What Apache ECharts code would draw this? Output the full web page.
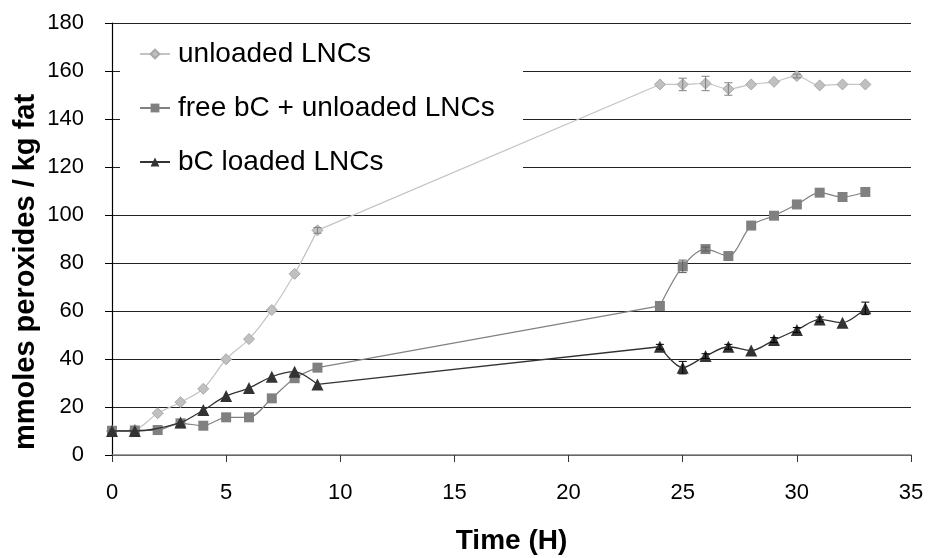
<!DOCTYPE html>
<html>
<head>
<meta charset="utf-8">
<script src="https://cdn.jsdelivr.net/npm/echarts@6/dist/echarts.min.js"></script>
<style>
  html, body { margin: 0; padding: 0; background: #fff; }
  #chart { width: 930px; height: 558px; }
</style>
</head>
<body>
<div id="chart"></div>
<script>
// hours
const timeUnloaded = [0, 1, 2, 3, 4, 5, 6, 7, 8, 9, 24, 25, 26, 27, 28, 29, 30, 31, 32, 33];
const unloaded = [10, 10.5, 17.4, 22, 27.6, 39.9, 48.3, 60.4, 75.5, 93.6, 154.4, 154.4, 154.8, 152.5, 154.4, 155.5, 157.9, 154, 154.4, 154.4];

const timeFree = [0, 1, 2, 3, 4, 5, 6, 7, 8, 9, 24, 25, 26, 27, 28, 29, 30, 31, 32, 33];
const freeBC = [10.1, 10.2, 10.4, 13.2, 12.2, 15.7, 15.7, 23.6, 32, 36.4, 62.1, 78.6, 85.8, 82.9, 95.6, 99.7, 104.4, 109.3, 107.5, 109.6];

// no point at t=2 for this series
const timeLoaded = [0, 1, 3, 4, 5, 6, 7, 8, 9, 24, 25, 26, 27, 28, 29, 30, 31, 32, 33];
const loadedBC = [10, 10, 13.5, 18.7, 24.6, 27.9, 32.6, 34.7, 29.4, 45.1, 36.4, 41.2, 45.1, 43.5, 47.9, 52.1, 56.5, 55.1, 61.1];

// error bars [time, +/-]
const errUnloaded = [[9, 1.2], [25, 2.6], [26, 3], [27, 2.6], [30, 0.8]];
const errFree = [[25, 2.6], [26, 0.8]];
const errLoaded = [[24, 1], [25, 2.6], [26, 1], [27, 1], [29, 1], [30, 1], [31, 1], [33, 2.6]];

const names = ['unloaded LNCs', 'free bC + unloaded LNCs', 'bC loaded LNCs'];
const yTitle = 'mmoles peroxides / kg fat';
const xTitle = 'Time (H)';

function pairs(xs, ys) {
  return xs.map((x, i) => [x, ys[i]]);
}

// the overnight gap (9h -> 24h) is drawn straight, the rest smoothed
function lineParts(name, xs, ys, look) {
  const pts = pairs(xs, ys);
  const cut = xs.indexOf(24);
  const base = {
    name: name,
    type: 'line',
    z: look.z,
    lineStyle: look.line,
    itemStyle: look.item,
    symbol: look.symbol,
    symbolSize: look.size
  };
  return [
    Object.assign({}, base, { data: pts.slice(0, cut), smooth: 0.3 }),
    Object.assign({}, base, { data: pts.slice(cut - 1, cut + 1), smooth: false, showSymbol: false, z: look.z - 0.5 }),
    Object.assign({}, base, { data: pts.slice(cut), smooth: 0.3 })
  ];
}

function errSeries(errs, vals, times, color) {
  const data = errs.map(e => {
    const v = vals[times.indexOf(e[0])];
    return [e[0], v - e[1], v + e[1]];
  });
  return {
    type: 'custom',
    data: data,
    z: 7,
    silent: true,
    renderItem: function (params, api) {
      const lo = api.coord([api.value(0), api.value(1)]);
      const hi = api.coord([api.value(0), api.value(2)]);
      const w = 4;
      const st = { stroke: color, lineWidth: 1 };
      return {
        type: 'group',
        children: [
          { type: 'line', shape: { x1: lo[0], y1: lo[1], x2: hi[0], y2: hi[1] }, style: st },
          { type: 'line', shape: { x1: lo[0] - w, y1: lo[1], x2: lo[0] + w, y2: lo[1] }, style: st },
          { type: 'line', shape: { x1: hi[0] - w, y1: hi[1], x2: hi[0] + w, y2: hi[1] }, style: st }
        ]
      };
    }
  };
}

const chart = echarts.init(document.getElementById('chart'), null, { renderer: 'canvas' });

const font = 'Liberation Sans, Arial, sans-serif';

const option = {
  animation: false,
  backgroundColor: '#fff',
  textStyle: { fontFamily: font },
  grid: { left: 112, right: 19, top: 23, bottom: 103, containLabel: false, outerBoundsMode: 'none' },
  graphic: [
    {
      // legend backdrop hides the grid lines behind it
      type: 'rect',
      z: 1,
      shape: { x: 120, y: 30, width: 403, height: 160 },
      style: { fill: '#fff' }
    },
    {
      type: 'text',
      x: 26,
      y: 272,
      rotation: Math.PI / 2,
      style: {
        text: yTitle,
        font: 'bold 29px ' + font,
        fill: '#000',
        align: 'center',
        verticalAlign: 'middle'
      }
    }
  ],
  legend: {
    orient: 'vertical',
    left: 139,
    top: 40,
    padding: 0,
    itemWidth: 30,
    itemHeight: 11,
    itemGap: 26,
    data: names,
    textStyle: { fontSize: 28, color: '#000', fontFamily: font, padding: [0, 0, 0, 3] }
  },
  xAxis: {
    type: 'value',
    min: 0,
    max: 35,
    interval: 5,
    name: xTitle,
    nameLocation: 'middle',
    nameGap: 72,
    nameTextStyle: { fontSize: 28, fontWeight: 'bold', color: '#000', fontFamily: font },
    axisLine: { show: true, onZero: false, lineStyle: { color: '#808080', width: 1.5 } },
    axisTick: { show: true, inside: false, length: 7, lineStyle: { color: '#333' } },
    axisLabel: { fontSize: 22, color: '#000', margin: 27, fontFamily: font },
    splitLine: { show: false }
  },
  yAxis: {
    type: 'value',
    min: 0,
    max: 180,
    interval: 20,
    axisLine: { show: true, lineStyle: { color: '#000', width: 1.2 } },
    axisTick: { show: true, inside: false, length: 7, lineStyle: { color: '#000' } },
    axisLabel: { fontSize: 22, color: '#000', margin: 28, fontFamily: font },
    splitLine: { show: true, lineStyle: { color: '#222', width: 1.2 } }
  },
  series: [].concat(
    lineParts(names[0], timeUnloaded, unloaded, {
      z: 4, symbol: 'diamond', size: 11,
      line: { color: '#c4c4c4', width: 1.2 },
      item: { color: '#c0c0c0', borderColor: '#a8a8a8', borderWidth: 1 }
    }),
    lineParts(names[1], timeFree, freeBC, {
      z: 5, symbol: 'rect', size: 10,
      line: { color: '#808080', width: 1.2 },
      item: { color: '#808080', borderColor: '#808080', borderWidth: 0 }
    }),
    lineParts(names[2], timeLoaded, loadedBC, {
      z: 6, symbol: 'triangle', size: 12,
      line: { color: '#333', width: 1.3 },
      item: { color: '#333', borderColor: '#333', borderWidth: 0 }
    }),
    [
      errSeries(errUnloaded, unloaded, timeUnloaded, '#808080'),
      errSeries(errFree, freeBC, timeFree, '#606060'),
      errSeries(errLoaded, loadedBC, timeLoaded, '#000')
    ]
  )
};

chart.setOption(option);
</script>
</body>
</html>
